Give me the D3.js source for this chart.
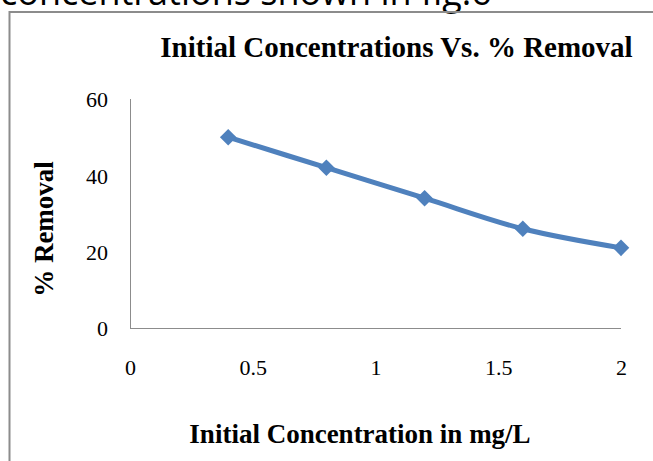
<!DOCTYPE html>
<html>
<head>
<meta charset="utf-8">
<script src="https://cdn.jsdelivr.net/npm/d3@7"></script>
<style>
  html, body { margin: 0; padding: 0; background: #fff; }
  svg { display: block; }
</style>
</head>
<body>
<script>
// ---- Data ----
const concentrations = [0.4, 0.8, 1.2, 1.6, 2.0];
const removal = [50, 42, 34, 26, 21];
const xTicks = [0, 0.5, 1, 1.5, 2];
const yTicks = [0, 20, 40, 60];
const chartTitle = "Initial Concentrations Vs. % Removal";
const xTitle = "Initial Concentration in mg/L";
const yTitle = "% Removal";
const captionText = "concentrations shown in fig.6";

const W = 653, H = 461;
const svg = d3.select("body").append("svg").attr("width", W).attr("height", H);

// caption text from the page above (clipped by the top edge in the reference)
svg.append("text")
  .attr("x", 0).attr("y", 5)
  .attr("font-family", "Open Sans, sans-serif")
  .attr("font-size", 36)
  .attr("fill", "#000")
  .text(captionText);

// chart border (left and top visible)
svg.append("path")
  .attr("d", "M9.5,470 V12 H660")
  .attr("fill", "none")
  .attr("stroke", "#8c8c8c")
  .attr("stroke-width", 2);

const plot = { left: 130, right: 621, top: 99, bottom: 328 };
const x = d3.scaleLinear().domain([0, 2]).range([plot.left, plot.right]);
const y = d3.scaleLinear().domain([0, 60]).range([plot.bottom, plot.top]);

// axes
const xAxis = d3.axisBottom(x).tickValues(xTicks).tickSize(0).tickPadding(0)
  .tickFormat(d => d3.format("")(d));
const yAxis = d3.axisLeft(y).tickValues(yTicks).tickSize(0).tickPadding(0);

const gx = svg.append("g").attr("transform", `translate(0,${plot.bottom})`).call(xAxis);
gx.select(".domain").attr("stroke", "#8c8c8c").attr("stroke-width", 1).attr("d", `M${plot.left},0.5H${plot.right}`);
gx.selectAll(".tick text")
  .attr("font-family", "Liberation Serif, Times New Roman, serif")
  .attr("font-size", 22).attr("fill", "#000")
  .attr("dy", null).attr("y", 47);

const gy = svg.append("g").attr("transform", `translate(${plot.left},0)`).call(yAxis);
gy.select(".domain").attr("stroke", "#8c8c8c").attr("stroke-width", 1).attr("d", `M0.5,${plot.top}V${plot.bottom}`);
gy.selectAll(".tick text")
  .attr("font-family", "Liberation Serif, Times New Roman, serif")
  .attr("font-size", 22).attr("fill", "#000")
  .attr("x", -22).attr("dy", "0.35em");

// line
const line = d3.line()
  .x((d, i) => x(concentrations[i]))
  .y(d => y(d))
  .curve(d3.curveCatmullRom.alpha(0.5));

svg.append("path")
  .datum(removal)
  .attr("d", line)
  .attr("fill", "none")
  .attr("stroke", "#4F81BD")
  .attr("stroke-width", 5)
  .attr("stroke-linejoin", "round");

// diamond markers
const diamond = d3.symbol().type(d3.symbolDiamond2).size(175);
svg.selectAll(".pt")
  .data(removal)
  .join("path")
  .attr("class", "pt")
  .attr("d", diamond)
  .attr("transform", (d, i) => `translate(${x(concentrations[i])},${y(d)})`)
  .attr("fill", "#4F81BD");

// titles
svg.append("text")
  .attr("x", 396.5).attr("y", 57)
  .attr("text-anchor", "middle")
  .attr("font-family", "Liberation Serif, Times New Roman, serif")
  .attr("font-weight", "bold")
  .attr("font-size", 29)
  .text(chartTitle);

svg.append("text")
  .attr("x", 360).attr("y", 443)
  .attr("text-anchor", "middle")
  .attr("font-family", "Liberation Serif, Times New Roman, serif")
  .attr("font-weight", "bold")
  .attr("font-size", 27)
  .text(xTitle);

svg.append("text")
  .attr("transform", "translate(53,229) rotate(-90)")
  .attr("text-anchor", "middle")
  .attr("font-family", "Liberation Serif, Times New Roman, serif")
  .attr("font-weight", "bold")
  .attr("font-size", 27)
  .text(yTitle);
</script>
</body>
</html>
